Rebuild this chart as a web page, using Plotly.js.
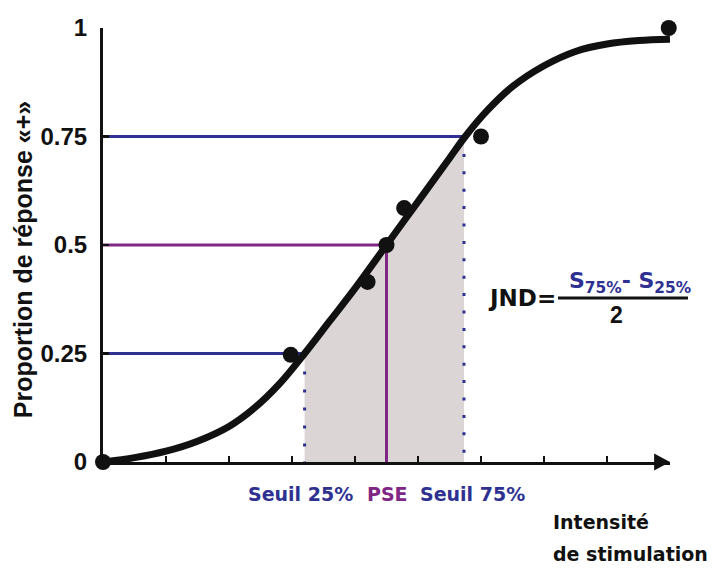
<!DOCTYPE html>
<html>
<head>
<meta charset="utf-8">
<script src="https://cdn.plot.ly/plotly-3.0.1.min.js"></script>
<style>html,body{margin:0;padding:0;background:#fff;}#chart{width:720px;height:568px;}</style>
</head>
<body>
<div id="chart"></div>
<script>
// Observed data points (stimulus intensity in tick units, proportion of "+" responses)
const stimulus   = [0, 2.98, 4.2, 4.5, 4.78, 6.0, 8.98];
const proportion = [0, 0.247, 0.415, 0.5, 0.585, 0.75, 1.0];

// Fitted psychometric curve
const fitX = [0, 0.5, 1.0, 1.5, 2.0, 2.4, 2.8, 3.2, 3.6, 4.0, 4.5, 5.0, 5.5, 5.75, 6.1, 6.5, 7.0, 7.5, 8.0, 8.5, 9.0];
const fitY = [0, 0.01, 0.025, 0.048, 0.082, 0.124, 0.18, 0.25, 0.325, 0.40, 0.5, 0.60, 0.70, 0.75, 0.81, 0.865, 0.913, 0.946, 0.963, 0.971, 0.974];

// Thresholds
const levels = [0.25, 0.5, 0.75];
const thresholds = [3.2, 4.5, 5.73]; // Seuil 25%, PSE, Seuil 75%

const yTickVals = [0, 0.25, 0.5, 0.75, 1];
const yTickText = ['0', '0.25', '0.5', '0.75', '1'];
const xTickVals = [1, 2, 3, 4, 5, 6, 7, 8];

const BLUE = 'rgb(46,49,146)';
const PURPLE = 'rgb(128,38,132)';
const SHADE = 'rgb(219,213,213)';
const GEO = '"DejaVu Sans", sans-serif';
const ARIAL = '"Liberation Sans", Arial, sans-serif';

const s25 = thresholds[0], pse = thresholds[1], s75 = thresholds[2];

// shaded area under curve between the two thresholds
const shadeX = [s25], shadeY = [levels[0]];
fitX.forEach((x, i) => { if (x > s25 && x < s75) { shadeX.push(x); shadeY.push(fitY[i]); } });
shadeX.push(s75); shadeY.push(levels[2]);

const traces = [
  {x: shadeX, y: shadeY, mode: 'lines', fill: 'tozeroy', fillcolor: SHADE,
   line: {width: 0, shape: 'spline'}, hoverinfo: 'skip'},
  // horizontal level lines
  {x: [0, s25], y: [levels[0], levels[0]], mode: 'lines', line: {color: BLUE, width: 3}},
  {x: [0, pse], y: [levels[1], levels[1]], mode: 'lines', line: {color: PURPLE, width: 3}},
  {x: [0, s75], y: [levels[2], levels[2]], mode: 'lines', line: {color: BLUE, width: 3}},
  // vertical lines
  {x: [s25, s25], y: [levels[0], 0], mode: 'lines', line: {color: BLUE, width: 3, dash: '3px,15px'}},
  {x: [pse, pse], y: [levels[1], 0], mode: 'lines', line: {color: PURPLE, width: 3}},
  {x: [s75, s75], y: [levels[2], 0], mode: 'lines', line: {color: BLUE, width: 3, dash: '3px,14.4px'}},
  // fitted curve
  {x: fitX, y: fitY, mode: 'lines', line: {color: '#111', width: 7, shape: 'spline'}},
  // observed points
  {x: stimulus, y: proportion, mode: 'markers', marker: {color: '#111', size: 16}, cliponaxis: false}
];

const ann = (x, y, text, font, extra) => Object.assign(
  {xref: 'paper', yref: 'paper', x: x, y: y, text: text, showarrow: false,
   xanchor: 'center', yanchor: 'middle', font: font}, extra || {});

const layout = {
  width: 720, height: 568,
  margin: {l: 103, r: 50, t: 28, b: 106},
  paper_bgcolor: '#fff', plot_bgcolor: '#fff',
  showlegend: false,
  xaxis: {range: [0, 9], showgrid: false, zeroline: false, showline: true, linewidth: 3, linecolor: '#111',
          tickvals: xTickVals, ticks: 'inside', ticklen: 6, tickwidth: 2, tickcolor: '#111', showticklabels: false},
  yaxis: {range: [0, 1], showgrid: false, zeroline: false, showline: true, linewidth: 3, linecolor: '#111',
          tickvals: yTickVals, ticktext: yTickText, ticks: 'inside', ticklen: 6, tickwidth: 2.5, tickcolor: '#111',
          ticklabelstandoff: 8,
          tickfont: {family: ARIAL, size: 24, color: '#111', weight: 'bold'}},
  shapes: [
    {type: 'path', xref: 'paper', yref: 'paper', path: 'M 0.972 0.0196 L 1.0 0 L 0.972 -0.0196 Z',
     fillcolor: '#111', line: {width: 0}},
    {type: 'line', xref: 'paper', yref: 'paper', x0: 0.8025, x1: 1.0317, y0: 0.378, y1: 0.378,
     line: {color: '#111', width: 3}}
  ],
  annotations: [
    ann(-0.141, 0.465, 'Proportion de réponse «+»', {family: ARIAL, size: 25, color: '#111', weight: 'bold'}, {textangle: -90}),
    ann(0.348, -0.074, 'Seuil 25%', {family: GEO, size: 19, color: BLUE, weight: 'bold'}),
    ann(0.501, -0.074, 'PSE', {family: GEO, size: 19, color: PURPLE, weight: 'bold'}),
    ann(0.652, -0.074, 'Seuil 75%', {family: GEO, size: 19, color: BLUE, weight: 'bold'}),
    ann(0.791, -0.138, 'Intensité', {family: GEO, size: 19, color: '#111', weight: 'bold'}, {xanchor: 'left'}),
    ann(0.791, -0.212, 'de stimulation', {family: GEO, size: 19, color: '#111', weight: 'bold'}, {xanchor: 'left'}),
    ann(0.8025, 0.379, 'JND=', {family: GEO, size: 23, color: '#111', weight: 'bold'}, {xanchor: 'right'}),
    ann(0.929, 0.413, 'S<sub>75%</sub>- S<sub>25%</sub>', {family: GEO, size: 22, color: BLUE, weight: 'bold'}),
    ann(0.9065, 0.3387, '2', {family: ARIAL, size: 23, color: '#111', weight: 'bold'})
  ]
};

Plotly.newPlot('chart', traces, layout, {displayModeBar: false, staticPlot: true});
</script>
</body>
</html>
